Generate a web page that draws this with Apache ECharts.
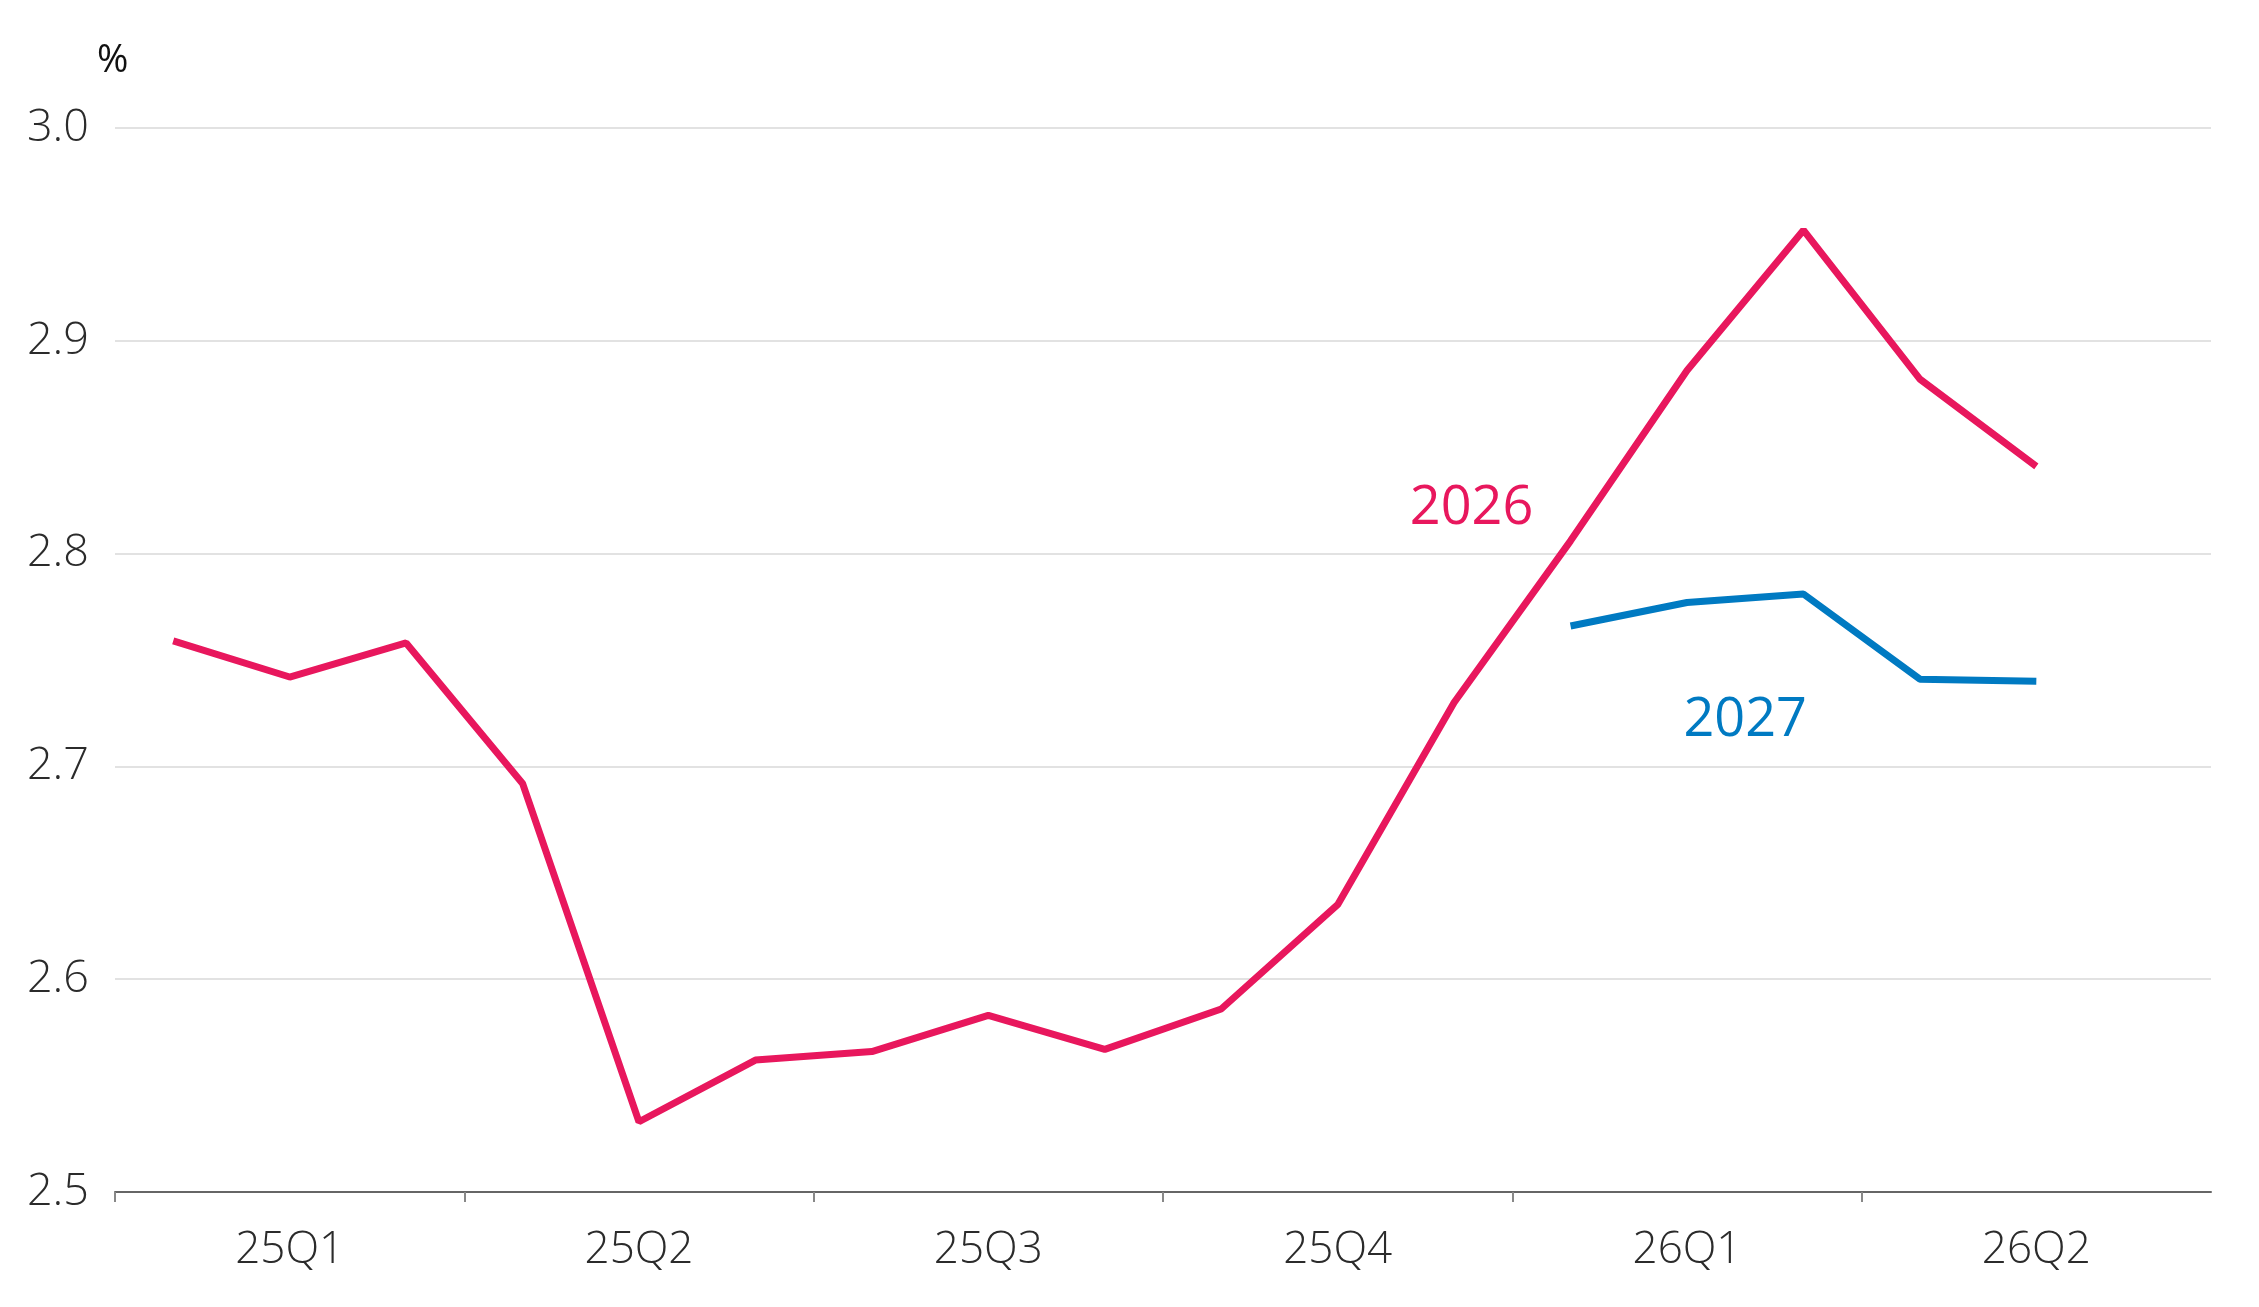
<!DOCTYPE html>
<html>
<head>
<meta charset="utf-8">
<title>2026 / 2027</title>
<script src="https://cdn.jsdelivr.net/npm/echarts@6/dist/echarts.min.js"></script>
<style>
    html, body { margin: 0; padding: 0; background: #fff; }
    #chart { width: 2259px; height: 1307px; }
</style>
</head>
<body>
<div id="chart"></div>
<script>
// monthly points, Jan 2025 .. Jun 2026
const months = ['2025-01', '2025-02', '2025-03', '2025-04', '2025-05', '2025-06',
    '2025-07', '2025-08', '2025-09', '2025-10', '2025-11', '2025-12',
    '2026-01', '2026-02', '2026-03', '2026-04', '2026-05', '2026-06'];
const quarters = ['25Q1', '25Q2', '25Q3', '25Q4', '26Q1', '26Q2'];

const values2026 = [2.759, 2.742, 2.758, 2.692, 2.533, 2.562, 2.566, 2.583, 2.567, 2.586,
    2.635, 2.730, 2.806, 2.886, 2.952, 2.882, 2.841, null];
const values2027 = [null, null, null, null, null, null, null, null, null, null,
    null, null, 2.766, 2.777, 2.781, 2.741, 2.740, null];

const yTicks = [2.5, 2.6, 2.7, 2.8, 2.9, 3.0];

const pink = '#E8175D';
const blue = '#007AC2';
const font = '"Open Sans", "Noto Sans", sans-serif';

// x is the month index, drawn in the middle of its month slot
function toPoints(vals) {
    return vals.map((v, i) => [i + 0.5, v]);
}

const chart = echarts.init(document.getElementById('chart'));

const option = {
    animation: false,
    backgroundColor: '#fff',
    grid: { left: 115, right: 48, top: 128, bottom: 115 },
    xAxis: {
        type: 'value',
        min: 0,
        max: months.length,
        splitLine: { show: false },
        axisLine: { show: true, onZero: false, lineStyle: { color: '#666', width: 2 } },
        axisTick: {
            show: true,
            length: 10,
            lineStyle: { color: '#888', width: 2 },
            customValues: [0, 3, 6, 9, 12, 15]
        },
        axisLabel: {
            customValues: [1.5, 4.5, 7.5, 10.5, 13.5, 16.5],
            formatter: v => quarters[Math.floor(v / 3)],
            margin: 36,
            fontSize: 44,
            fontFamily: font,
            fontWeight: 300,
            color: '#2b2b2b'
        }
    },
    yAxis: {
        type: 'value',
        min: yTicks[0],
        max: yTicks[yTicks.length - 1],
        interval: 0.1,
        axisLine: { show: false },
        axisTick: { show: false },
        splitLine: { lineStyle: { color: '#e2e2e2', width: 2 } },
        axisLabel: {
            margin: 26,
            padding: [18, 0, 0, 0],
            fontSize: 45,
            fontFamily: font,
            fontWeight: 300,
            color: '#2b2b2b',
            formatter: v => v.toFixed(1)
        }
    },
    graphic: [{
        type: 'text',
        left: 97,
        top: 42,
        style: { text: '%', fontSize: 38, fontFamily: font, fill: '#111' }
    }],
    series: [
        {
            name: '2026',
            type: 'line',
            data: toPoints(values2026),
            showSymbol: false,
            lineStyle: { color: pink, width: 7 },
            itemStyle: { color: pink },
            markPoint: {
                symbol: 'circle',
                symbolSize: 1,
                itemStyle: { color: 'rgba(0,0,0,0)' },
                label: {
                    show: true, position: 'inside', formatter: '2026',
                    fontSize: 54, fontFamily: font, color: pink
                },
                data: [{ coord: [11.65, 2.821] }]
            }
        },
        {
            name: '2027',
            type: 'line',
            data: toPoints(values2027),
            showSymbol: false,
            lineStyle: { color: blue, width: 7 },
            itemStyle: { color: blue },
            markPoint: {
                symbol: 'circle',
                symbolSize: 1,
                itemStyle: { color: 'rgba(0,0,0,0)' },
                label: {
                    show: true, position: 'inside', formatter: '2027',
                    fontSize: 54, fontFamily: font, color: blue
                },
                data: [{ coord: [14.0, 2.7215] }]
            }
        }
    ]
};

chart.setOption(option);
</script>
</body>
</html>
